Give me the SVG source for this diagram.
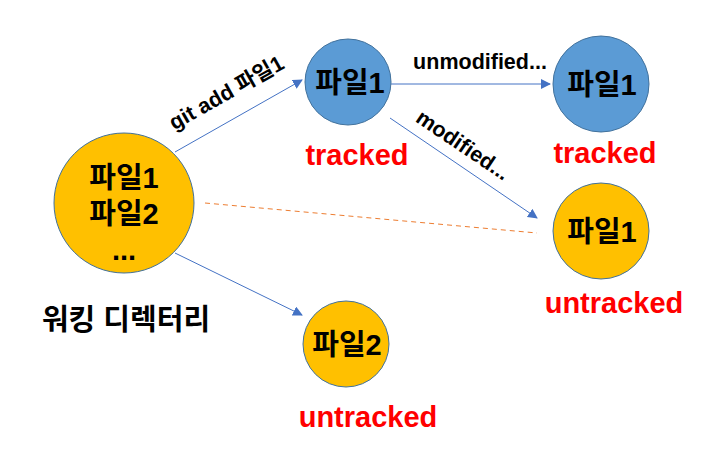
<svg xmlns="http://www.w3.org/2000/svg" width="722" height="455" viewBox="0 0 722 455">
<defs>
<style>
.y{fill:#FFC000;stroke:#41719C;stroke-width:1}
.b{fill:#5B9BD5;stroke:#41719C;stroke-width:1}
.t{font-family:"Liberation Sans","Noto Sans CJK KR",sans-serif;font-weight:bold;font-size:29px;fill:#000;text-anchor:middle}
.r{font-family:"Liberation Sans","Noto Sans CJK KR",sans-serif;font-weight:bold;font-size:29px;fill:#FF0000;text-anchor:middle}
.l{font-family:"Liberation Sans","Noto Sans CJK KR",sans-serif;font-weight:bold;font-size:21.5px;fill:#000;text-anchor:middle}
.c{stroke:#4472C4;stroke-width:1;fill:none;marker-end:url(#a)}
</style>
<marker id="a" viewBox="0 0 10 10" refX="9" refY="5" markerWidth="10" markerHeight="10" markerUnits="userSpaceOnUse" orient="auto">
<path d="M0,0 L10,5 L0,10 Z" fill="#4472C4"/>
</marker>
</defs>
<rect width="722" height="455" fill="#fff"/>
<g id="connectors">
<line class="c" x1="175" y1="152" x2="302" y2="80"/>
<line class="c" x1="391" y1="84" x2="550" y2="84"/>
<line class="c" x1="390" y1="118" x2="537" y2="218"/>
<line class="c" x1="175" y1="253" x2="302" y2="315"/>
<line x1="205" y1="203" x2="537" y2="233" stroke="#ED7D31" stroke-width="1" stroke-dasharray="5,4"/>
<text class="l" transform="translate(230,99) rotate(-29.5)">git add 파일1</text>
<text class="l" x="480" y="69">unmodified...</text>
<text class="l" transform="translate(459,151) rotate(34)">modified...</text>
</g>
<g id="workdir">
<circle class="y" cx="124" cy="203" r="70"/>
<text class="t"><tspan x="124" y="188">파일1</tspan><tspan x="124" y="224">파일2</tspan><tspan x="124" y="260">...</tspan></text>
<text class="t" x="126" y="330" font-size="31" font-weight="normal">워킹 디렉터리</text>
</g>
<g id="tracked1">
<circle class="b" cx="348" cy="82" r="43"/>
<text class="t" x="350" y="93">파일1</text>
<text class="r" x="357" y="165">tracked</text>
</g>
<g id="tracked2">
<circle class="b" cx="601" cy="84" r="48"/>
<text class="t" x="602" y="95">파일1</text>
<text class="r" x="605" y="163">tracked</text>
</g>
<g id="untracked1">
<circle class="y" cx="601" cy="231" r="48"/>
<text class="t" x="602" y="242">파일1</text>
<text class="r" x="614" y="313">untracked</text>
</g>
<g id="untracked2">
<circle class="y" cx="346" cy="344" r="43"/>
<text class="t" x="347" y="355">파일2</text>
<text class="r" x="368" y="427">untracked</text>
</g>
</svg>
